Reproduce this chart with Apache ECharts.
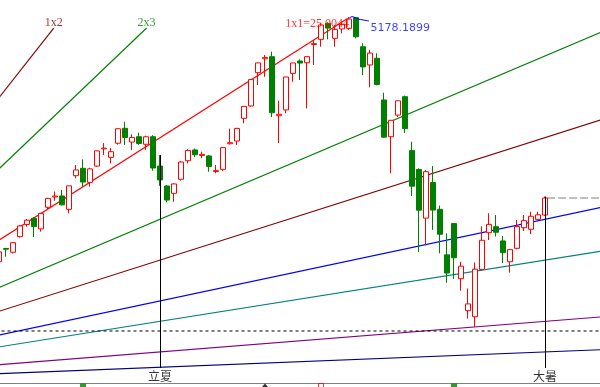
<!DOCTYPE html>
<html><head><meta charset="utf-8">
<script src="https://cdn.jsdelivr.net/npm/echarts@6/dist/echarts.min.js"></script>
<style>html,body{margin:0;padding:0;background:#fff}#c{width:600px;height:387px}</style>
</head><body><div id="c"></div><script>
// ---- data (Shanghai Composite, daily, 2015) ----
const dates = [
'2015-04-01','2015-04-02','2015-04-03','2015-04-07','2015-04-08','2015-04-09','2015-04-10','2015-04-13','2015-04-14','2015-04-15','2015-04-16','2015-04-17','2015-04-20','2015-04-21','2015-04-22','2015-04-23','2015-04-24','2015-04-27','2015-04-28','2015-04-29','2015-04-30',
'2015-05-04','2015-05-05','2015-05-06','2015-05-07','2015-05-08','2015-05-11','2015-05-12','2015-05-13','2015-05-14','2015-05-15','2015-05-18','2015-05-19','2015-05-20','2015-05-21','2015-05-22','2015-05-25','2015-05-26','2015-05-27','2015-05-28','2015-05-29',
'2015-06-01','2015-06-02','2015-06-03','2015-06-04','2015-06-05','2015-06-08','2015-06-09','2015-06-10','2015-06-11','2015-06-12','2015-06-15','2015-06-16','2015-06-17','2015-06-18','2015-06-19','2015-06-23','2015-06-24','2015-06-25','2015-06-26','2015-06-29','2015-06-30',
'2015-07-01','2015-07-02','2015-07-03','2015-07-06','2015-07-07','2015-07-08','2015-07-09','2015-07-10','2015-07-13','2015-07-14','2015-07-15','2015-07-16','2015-07-17','2015-07-20','2015-07-21','2015-07-22','2015-07-23'];
const opens = [3753,3830,3808,3899,3970,4006,3944,4070,4130,4136,4058,4254,4297,4215,4310,4410,4361,4443,4530,4450,4481,
4437,4481,4310,4194,4151,4233,4341,4404,4372,4369,4278,4291,4440,4456,4588,4660,4854,4935,4947,4603.5,
4637,4850,4922,4912,5018,5048,5141,5054,5109,5112,5174.4,5005,4899,4938,4695,4481,4607,4714,4400,4289.8,4006.8,
4214,4058,3793,3975,3654,3467.7,3432.5,3707.8,3922,3957,3874,3753,3831,3951,3942,4000,4025];
const closes = [3810.3,3825.8,3863.9,3961.4,3994.8,3957.5,4034.3,4121.7,4135.6,4084.2,4194.8,4287.3,4217.1,4293.6,4398.5,4414.5,4393.7,4527.4,4476.6,4476.2,4441.7,
4480.5,4298.7,4229.3,4112.2,4205.9,4333.6,4401.2,4375.8,4378.2,4308.1,4283.5,4417.5,4446.3,4529.4,4657.6,4813.8,4910.9,4941.7,4620.3,4611.7,
4828.7,4910.5,4909.9,4947.1,5023.1,5131.9,5113.5,5106.0,5136,5166.3,5062.9,4887.4,4967.9,4785.4,4478.4,4576.5,4690.1,4527.8,4192.9,4053.0,4277.2,
4053.7,3912.8,3686.9,3775.9,3727.1,3507.2,3709.3,3877.8,3970.4,3924.5,3805.7,3823.2,3957.4,3992.1,4017.7,4026.0,4123.9];
const lows = [3745,3782,3801,3894,3957,3897,3928,4058,4107,4080,4035,4239,4190,4190,4305,4374,4326,4435,4433,4403,4433,
4404,4283,4195,4099,4102,4225,4326,4362,4355,4277,4268,4280,4436,4433,4559,4655,4782,4830,4595,4444,
4617,4801,4811,4646,4899,5005,5048,5005,5083,5103,5054,4840,4769,4780,4475,4268,4595,4503,4136,3810,3848,
3938,3802,3630,3653,3584,3421.5,3373.54,3700,3879,3900,3745,3689,3825,3932,3914,3995,4020];
const highs = [3818,3834,3866,3967,4002,4013,4036,4125,4162,4171,4196,4316,4349,4300,4400,4444,4415,4530,4568,4495,4504,
4487,4490,4374,4200,4210,4340,4408,4412,4394,4375,4316,4420,4528,4533,4660,4815,4912,4957,4976,4690,
4830,4911,4932,4950,5044,5142,5147,5132,5143,5178.19,5176.8,5025,4986,4967,4737,4578,4691,4720,4452,4297,4287.3,
4310,4080,3918,3975.2,3753,3597,3748.5,3959,4035,4025,3903,3826,3996,4025,4044,4044,4132.6];

// Gann fan (origin: 2015-02-09 low, 32 bars before first shown bar)
const gannNames  = ['1x2','2x3','1x1','3x2','2x1','3x1','4x1','8x1','16x1'];
const gannRatios = [2, 1.5, 1, 2/3, 1/2, 1/3, 1/4, 1/8, 1/16];
const gannColors = ['#800000','#008000','#ff0000','#008000','#800000','#0000ff','#008080','#800080','#000080'];
const gannEnd    = [5114, 5114, 5170, null, null, null, null, null, null];
const gannLabels = ['1x2','2x3','1x1=25.0044','','','','','',''];
const gannOrigin = [-32, 3049.11];
const gannUnit = 25.93;

const refLevel = 3349.5;          // dashed black level
const termDates = ['2015-05-06','2015-07-23'];
const termNames = ['立夏','大暑'];
const termBottom = 3134;          // where term lines stop
const termLabelY = 3087;
const flagDates = ['2015-04-20','2015-05-27','2015-06-08','2015-07-06'];
const flagKinds = ['green','tri','red','green'];
const highLabel = '5178.1899';

// ---- build ----
const nSlots = 87;
const cats = dates.concat(Array.from({length: nSlots - dates.length}, (_, j) => 'pad' + j));
const candleData = dates.map((d, k) => [opens[k], closes[k], lows[k], highs[k]]);
const crisp = 0.5 / 7;

const series = [];
const gannLabelData = [];
gannNames.forEach((nm, j) => {
  const slope = gannUnit * gannRatios[j];
  let k1, p1;
  if (gannEnd[j] != null) { p1 = gannEnd[j]; k1 = gannOrigin[0] + (p1 - gannOrigin[1]) / slope; }
  else { k1 = 95; p1 = gannOrigin[1] + slope * (k1 - gannOrigin[0]); }
  series.push({type:'line', name:nm, xAxisIndex:1, yAxisIndex:0, data:[gannOrigin, [k1, p1]],
    symbol:'none', silent:true, z:1, lineStyle:{color:gannColors[j], width:1.15}});
  if (gannLabels[j]) {
    const isLong = gannLabels[j].length > 4;
    gannLabelData.push({value:[k1, p1], label:{show:true, formatter:gannLabels[j], color:gannColors[j],
      position: isLong ? 'left' : 'top', distance: 0, offset: isLong ? [2, 5] : [0, 1]}});
  }
});
series.push({type:'scatter', xAxisIndex:1, yAxisIndex:0, symbol:'rect', symbolSize:1, silent:true, z:6,
  itemStyle:{color:'rgba(0,0,0,0)'}, label:{show:true, fontFamily:'Liberation Serif', fontSize:12},
  data:gannLabelData});

// dashed level line
series.push({type:'line', xAxisIndex:1, yAxisIndex:0, symbol:'none', silent:true, z:2,
  lineStyle:{color:'#000', width:1, type:[3,3]}, data:[[-0.5, refLevel],[86.5, refLevel]]});
// last close dashed line
const lastK = dates.length - 1;
series.push({type:'line', xAxisIndex:1, yAxisIndex:0, symbol:'none', silent:true, z:2,
  lineStyle:{color:'#808080', width:1, type:[8,3]}, data:[[lastK + 0.3, closes[lastK]],[86.5, closes[lastK]]]});

// candles
series.push({type:'candlestick', xAxisIndex:0, yAxisIndex:0, data:candleData, barWidth:5, z:3, silent:true,
  itemStyle:{color:'#ffffff', color0:'#008000', borderColor:'#ff0000', borderColor0:'#008000', borderColorDoji:'#ff0000', borderWidth:1}});

// solar term vertical lines + labels
termDates.forEach((d, j) => {
  const k = dates.indexOf(d);
  series.push({type:'line', xAxisIndex:1, yAxisIndex:0, symbol:'none', silent:true, z:5,
    lineStyle:{color:'#000', width:1}, data:[[k + crisp, highs[k]],[k + crisp, termBottom]]});
  series.push({type:'scatter', xAxisIndex:1, yAxisIndex:0, symbol:'rect', symbolSize:1, silent:true, z:6,
    itemStyle:{color:'rgba(0,0,0,0)'}, data:[[k, termLabelY]],
    label:{show:true, position:'inside', formatter:termNames[j], color:'#000', fontSize:12, fontFamily:'Noto Sans CJK SC'}});
});

// high annotation
const hiK = highs.indexOf(Math.max(...highs));
const hiV = highs[hiK];
series.push({type:'line', xAxisIndex:1, yAxisIndex:0, symbol:'none', silent:true, z:6, smooth:0.4,
  lineStyle:{color:'#0000ff', width:1},
  data:[[hiK, hiV - 8],[hiK + 0.43, hiV + 2],[hiK + 1.3, hiV - 12],[hiK + 2, hiV - 17],[hiK + 2.86, hiV - 23]]});
series.push({type:'scatter', xAxisIndex:1, yAxisIndex:0, symbol:'rect', symbolSize:1, silent:true, z:6,
  itemStyle:{color:'rgba(0,0,0,0)'}, data:[[hiK + 2.86, hiV - 67]],
  label:{show:true, position:'right', distance:1, formatter:highLabel, color:'#1010ff', fontSize:11, fontFamily:'DejaVu Sans'}});

// flags below the axis
const flagStyle = {
  green:{symbol:'rect', symbolSize:[6,4], itemStyle:{color:'#008000'}, y:1.5},
  tri:{symbol:'triangle', symbolSize:[7,4], itemStyle:{color:'#000'}, y:1.5},
  red:{symbol:'rect', symbolSize:[5,5], itemStyle:{color:'rgba(0,0,0,0)', borderColor:'#ff0000', borderWidth:1}, y:1}
};
flagDates.forEach((d, j) => {
  const st = flagStyle[flagKinds[j]];
  series.push({type:'scatter', xAxisIndex:2, yAxisIndex:1, silent:true, clip:false,
    symbol:st.symbol, symbolSize:st.symbolSize, itemStyle:st.itemStyle, data:[[d, st.y]]});
});

const chart = echarts.init(document.getElementById('c'));
chart.setOption({
  animation:false,
  backgroundColor:'#ffffff',
  grid:[{left:-4.5, top:0, width:609, height:383, outerBoundsMode:'none', containLabel:false},
        {left:-4.5, top:383, width:609, height:4, outerBoundsMode:'none', containLabel:false}],
  xAxis:[
    {gridIndex:0, type:'category', data:cats, boundaryGap:true,
     axisLine:{show:true, onZero:false, lineStyle:{color:'#808080', width:1}},
     axisTick:{show:false}, axisLabel:{show:false}, splitLine:{show:false}},
    {gridIndex:0, type:'value', min:-0.5, max:86.5, show:false, splitLine:{show:false}},
    {gridIndex:1, type:'category', data:cats, show:false}
  ],
  yAxis:[
    {gridIndex:0, type:'value', min:3046.6, max:5277.2, show:false, splitLine:{show:false}},
    {gridIndex:1, type:'value', min:0, max:4, show:false, splitLine:{show:false}}
  ],
  series:series
});
</script></body></html>
